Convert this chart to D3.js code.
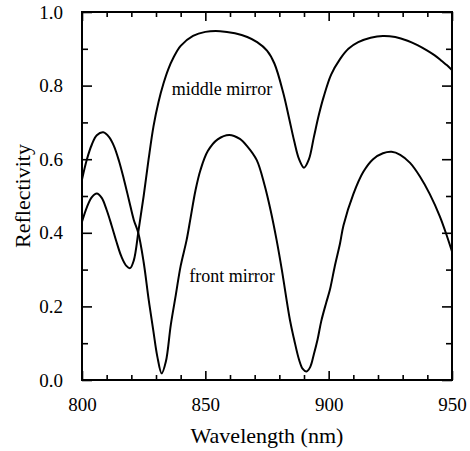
<!DOCTYPE html>
<html>
<head>
<meta charset="utf-8">
<script src="https://cdn.jsdelivr.net/npm/d3@7"></script>
<style>
  body { margin: 0; background: #fff; }
</style>
</head>
<body>
<script>
// wavelength (nm) / reflectivity pairs
var middleNm = [800,802,804,806,808,810,812,814,816,818,819.5,821,823,825,827,829,831,833,835,837,840,845,850,856,862,867,871,875,878,881.6,884,886,888,890,892,894,896,898,901,904.6,908,912,917,922,927,932,936,940,943,946,948,950];
var middleR  = [0.43,0.47,0.497,0.507,0.495,0.462,0.42,0.375,0.335,0.31,0.304,0.325,0.41,0.50,0.60,0.69,0.755,0.805,0.845,0.875,0.908,0.935,0.946,0.948,0.942,0.932,0.918,0.895,0.86,0.78,0.71,0.65,0.60,0.577,0.60,0.66,0.72,0.77,0.83,0.872,0.9,0.918,0.93,0.935,0.932,0.922,0.91,0.895,0.882,0.866,0.855,0.842];

var frontNm = [800,802,804,806,808.6,811,813,815,817,819,821,822.8,825,827,829,830.5,832.3,834,836,838,840,842.4,844,846,848,851,855,859.7,864,867,870.8,874,876.5,878.9,881,884.3,886,888,889.5,891,892.5,894,895.5,897,899,900.5,902.5,904.6,906,910,914,918,922,925.5,929,933,937,941,945.1,948,950];
var frontR  = [0.545,0.60,0.64,0.665,0.673,0.66,0.635,0.595,0.545,0.49,0.435,0.40,0.32,0.22,0.13,0.065,0.018,0.05,0.15,0.23,0.31,0.38,0.44,0.515,0.57,0.622,0.654,0.666,0.655,0.635,0.598,0.53,0.46,0.38,0.30,0.163,0.11,0.055,0.03,0.023,0.035,0.07,0.11,0.16,0.21,0.245,0.31,0.371,0.42,0.505,0.565,0.6,0.616,0.620,0.612,0.59,0.553,0.505,0.444,0.39,0.349];

var xMajor = [800,850,900,950];
var xMinor = [810,820,830,840,860,870,880,890,910,920,930,940];
var yMajor = [0,0.2,0.4,0.6,0.8,1.0];
var yMinor = [0.1,0.3,0.5,0.7,0.9];

var FONT = '"Liberation Serif", "Times New Roman", Times, "DejaVu Serif", serif';

var W = 470, H = 451;
var m = {left:82, right:18, top:12, bottom:71};
var w = W - m.left - m.right, h = H - m.top - m.bottom;

var svg = d3.select("body").append("svg").attr("width", W).attr("height", H);
var g = svg.append("g").attr("transform","translate("+m.left+","+m.top+")");

var x = d3.scaleLinear().domain([800,950]).range([0,w]);
var y = d3.scaleLinear().domain([0,1]).range([h,0]);

function styleAxis(sel){
	sel.attr("font-family", null);
	sel.select(".domain").remove();
	sel.selectAll("line").attr("stroke","#000").attr("stroke-width",1.6);
	sel.selectAll("text").style("font-family",FONT).style("font-size","19px").attr("fill","#000");
}

// inward ticks, all four sides
g.append("g").attr("transform","translate(0,"+h+")")
	.call(d3.axisBottom(x).tickValues(xMajor).tickSize(-9).tickPadding(18).tickFormat(d3.format("d")))
	.call(styleAxis);
g.append("g").attr("transform","translate(0,"+h+")")
	.call(d3.axisBottom(x).tickValues(xMinor).tickSize(-5).tickFormat(""))
	.call(styleAxis);
g.append("g")
	.call(d3.axisTop(x).tickValues(xMajor).tickSize(-9).tickFormat(""))
	.call(styleAxis);
g.append("g")
	.call(d3.axisTop(x).tickValues(xMinor).tickSize(-5).tickFormat(""))
	.call(styleAxis);
g.append("g")
	.call(d3.axisLeft(y).tickValues(yMajor).tickSize(-10).tickPadding(19).tickFormat(d3.format(".1f")))
	.call(styleAxis);
g.append("g")
	.call(d3.axisLeft(y).tickValues(yMinor).tickSize(-6).tickFormat(""))
	.call(styleAxis);
g.append("g").attr("transform","translate("+w+",0)")
	.call(d3.axisRight(y).tickValues(yMajor).tickSize(-10).tickFormat(""))
	.call(styleAxis);
g.append("g").attr("transform","translate("+w+",0)")
	.call(d3.axisRight(y).tickValues(yMinor).tickSize(-6).tickFormat(""))
	.call(styleAxis);

g.append("rect").attr("width",w).attr("height",h)
	.attr("fill","none").attr("stroke","#000").attr("stroke-width",2);

var line = d3.line()
	.x(d=>x(d[0])).y(d=>y(d[1]))
	.curve(d3.curveCatmullRom.alpha(0.5));

g.append("path").datum(d3.zip(middleNm, middleR))
	.attr("d", line).attr("fill","none").attr("stroke","#000").attr("stroke-width",2);
g.append("path").datum(d3.zip(frontNm, frontR))
	.attr("d", line).attr("fill","none").attr("stroke","#000").attr("stroke-width",2);

g.append("text").attr("x",x(856.8)).attr("y",y(0.774))
	.attr("text-anchor","middle").style("font-family",FONT).style("font-size","18px").text("middle mirror");
g.append("text").attr("x",x(860.8)).attr("y",y(0.266))
	.attr("text-anchor","middle").style("font-family",FONT).style("font-size","18px").text("front mirror");

svg.append("text").attr("x", m.left + w/2).attr("y", 443)
	.attr("text-anchor","middle").style("font-family",FONT).style("font-size","22px").text("Wavelength (nm)");
svg.append("text").attr("transform","translate(30,"+(m.top+h/2)+") rotate(-90)")
	.attr("text-anchor","middle").style("font-family",FONT).style("font-size","22px").text("Reflectivity");
</script>
</body>
</html>
